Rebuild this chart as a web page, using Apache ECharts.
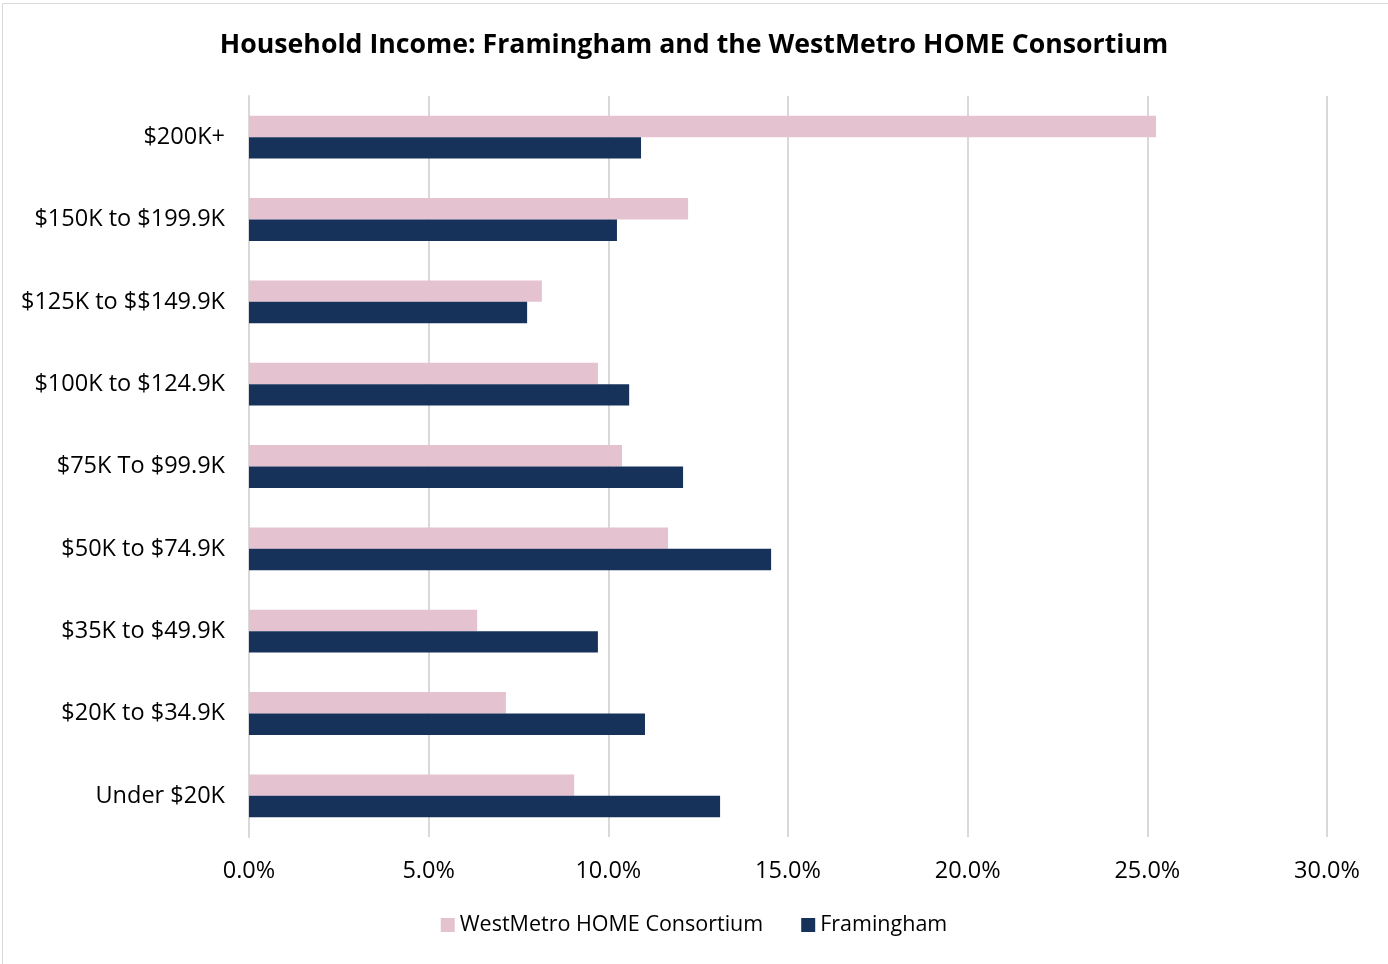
<!DOCTYPE html>
<html>
<head>
<meta charset="utf-8">
<script src="https://cdn.jsdelivr.net/npm/echarts@6/dist/echarts.min.js"></script>
<style>
  html, body { margin: 0; padding: 0; background: #fff; }
  #chart { width: 1388px; height: 964px; }
</style>
</head>
<body>
<div id="chart"></div>
<script>
// bottom to top, as the category axis runs
const categories = ['Under $20K', '$20K to $34.9K', '$35K to $49.9K', '$50K to $74.9K', '$75K To $99.9K',
  '$100K to $124.9K', '$125K to $$149.9K', '$150K to $199.9K', '$200K+'];
const westMetro = [9.05, 7.15, 6.35, 11.66, 10.38, 9.71, 8.15, 12.22, 25.24];
const framingham = [13.11, 11.02, 9.71, 14.53, 12.08, 10.58, 7.74, 10.24, 10.91];
const xTicks = [0, 5, 10, 15, 20, 25, 30];

const chart = echarts.init(document.getElementById('chart'));
const font = '"Open Sans", sans-serif';

chart.setOption({
  animation: false,
  textStyle: { fontFamily: font },
  graphic: [{
    type: 'rect',
    shape: { x: 2.5, y: 3.5, width: 1400, height: 970 },
    style: { fill: 'none', stroke: '#d9d9d9', lineWidth: 1 },
    silent: true
  }],
  title: {
    text: 'Household Income: Framingham and the WestMetro HOME Consortium',
    left: 'center',
    top: 27,
    textStyle: { fontSize: 26.7, fontWeight: 'bold', color: '#000', fontFamily: font }
  },
  legend: {
    bottom: 23,
    left: 'center',
    itemWidth: 14,
    itemHeight: 14,
    itemGap: 38,
    itemTextGap: 6,
    icon: 'rect',
    data: ['WestMetro HOME Consortium', 'Framingham'],
    textStyle: { fontSize: 21.5, color: '#000', fontFamily: font }
  },
  grid: { left: 249, right: 61, top: 96, bottom: 127 },
  xAxis: {
    type: 'value',
    min: 0,
    max: 30,
    interval: 5,
    axisLine: { show: false },
    axisTick: { show: false },
    axisLabel: {
      margin: 22,
      fontSize: 23.5,
      color: '#000',
      fontFamily: font,
      formatter: v => xTicks.includes(v) ? v.toFixed(1) + '%' : ''
    },
    splitLine: { show: true, lineStyle: { color: '#d9d9d9', width: 2 } }
  },
  yAxis: {
    type: 'category',
    data: categories,
    axisLine: { show: true, lineStyle: { color: '#d9d9d9', width: 2 } },
    axisTick: { show: false },
    axisLabel: { margin: 24, fontSize: 23.5, color: '#000', fontFamily: font }
  },
  series: [
    {
      name: 'WestMetro HOME Consortium',
      type: 'bar',
      data: westMetro,
      barGap: '0%',
      barCategoryGap: '48%',
      itemStyle: { color: '#e4c2cf' }
    },
    {
      name: 'Framingham',
      type: 'bar',
      data: framingham,
      barGap: '0%',
      barCategoryGap: '48%',
      itemStyle: { color: '#17325a' }
    }
  ]
});
</script>
</body>
</html>
